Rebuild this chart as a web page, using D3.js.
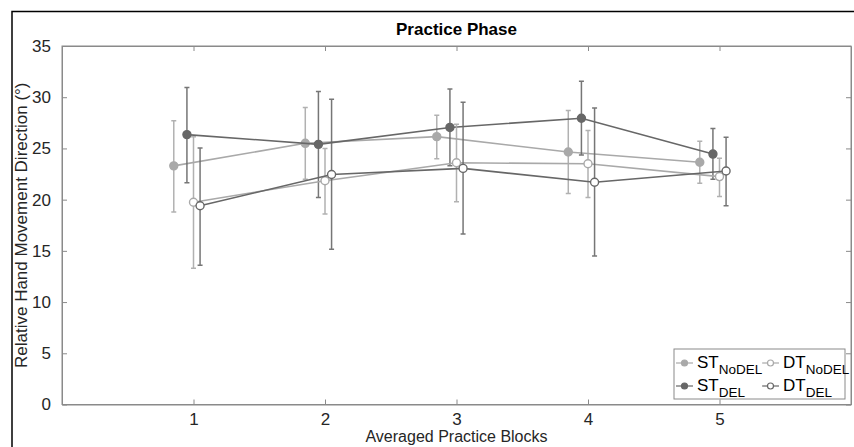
<!DOCTYPE html>
<html lang="en">
<head>
<meta charset="utf-8">
<title>Practice Phase</title>
<script src="https://d3js.org/d3.v7.min.js"></script>
<style>
body { margin: 0; background: #fff; }
text { font-family: "Liberation Sans", Arial, sans-serif; }
</style>
</head>
<body>
<svg width="854" height="447"></svg>
<script>
// data
var blocks = [1, 2, 3, 4, 5];
var xTicks = [1, 2, 3, 4, 5];
var yTicks = [0, 5, 10, 15, 20, 25, 30, 35];

var stNoDelMean = [23.3, 25.5, 26.15, 24.65, 23.65];
var stNoDelLo   = [18.8, 22.0, 24.0, 20.6, 21.6];
var stNoDelHi   = [27.7, 29.0, 28.25, 28.7, 25.7];

var stDelMean = [26.35, 25.4, 27.05, 27.95, 24.45];
var stDelLo   = [21.65, 20.2, 23.3, 24.35, 22.0];
var stDelHi   = [30.95, 30.55, 30.8, 31.55, 26.95];

var dtNoDelMean = [19.75, 21.85, 23.6, 23.5, 22.25];
var dtNoDelLo   = [13.3, 18.6, 19.8, 20.2, 20.3];
var dtNoDelHi   = [26.15, 25.0, 27.35, 26.75, 24.05];

var dtDelMean = [19.4, 22.45, 23.05, 21.7, 22.8];
var dtDelLo   = [13.6, 15.15, 16.65, 14.5, 19.4];
var dtDelHi   = [25.05, 29.8, 29.5, 28.95, 26.1];

var series = [
  {name: 'ST', sub: 'NoDEL', mean: stNoDelMean, lo: stNoDelLo, hi: stNoDelHi, off: -0.15, color: '#a9a9a9', fill: '#a9a9a9'},
  {name: 'ST', sub: 'DEL', mean: stDelMean, lo: stDelLo, hi: stDelHi, off: -0.05, color: '#676767', fill: '#676767'},
  {name: 'DT', sub: 'NoDEL', mean: dtNoDelMean, lo: dtNoDelLo, hi: dtNoDelHi, off: 0, color: '#a9a9a9', fill: '#fff'},
  {name: 'DT', sub: 'DEL', mean: dtDelMean, lo: dtDelLo, hi: dtDelHi, off: 0.05, color: '#676767', fill: '#fff'}
];

var svg = d3.select('svg');
var L = 62, R = 851, T = 46, B = 404.5;

var x = d3.scaleLinear().domain([0, 6]).range([L, R]);
var y = d3.scaleLinear().domain([0, 35]).range([B, T]);

// figure frame
svg.append('path').attr('d', 'M12,460 L12,11.5 L870,11.5')
  .attr('fill', 'none').attr('stroke', '#000').attr('stroke-width', 1.5);

// axes box
svg.append('rect').attr('x', L).attr('y', T).attr('width', R - L).attr('height', B - T)
  .attr('fill', '#fff').attr('stroke', '#8a8a8a').attr('stroke-width', 1);

var axisCol = '#8a8a8a', labCol = '#262626';

var gB = svg.append('g').attr('transform', 'translate(0,' + B + ')')
  .call(d3.axisBottom(x).tickValues(xTicks).tickFormat(d3.format('d'))
    .tickSizeInner(-5).tickSizeOuter(0).tickPadding(8));
var gT = svg.append('g').attr('transform', 'translate(0,' + T + ')')
  .call(d3.axisTop(x).tickValues(xTicks).tickSizeInner(-5).tickSizeOuter(0).tickFormat(''));
var gL = svg.append('g').attr('transform', 'translate(' + L + ',0)')
  .call(d3.axisLeft(y).tickValues(yTicks).tickFormat(d3.format('d'))
    .tickSizeInner(-5).tickSizeOuter(0).tickPadding(11));
var gR = svg.append('g').attr('transform', 'translate(' + R + ',0)')
  .call(d3.axisRight(y).tickValues(yTicks).tickSizeInner(-5).tickSizeOuter(0).tickFormat(''));

[gB, gT, gL, gR].forEach(function(g) {
  g.attr('font-size', null).attr('font-family', null);
  g.select('.domain').attr('stroke', axisCol);
  g.selectAll('.tick line').attr('stroke', axisCol);
  g.selectAll('.tick text').attr('fill', labCol).style('font-size', '17px');
});

// error bars, lines, markers
var cap = 2.5;
series.forEach(function(s) {
  var g = svg.append('g');
  var pts = blocks.map(function(b, i) { return {b: b + s.off, m: s.mean[i], lo: s.lo[i], hi: s.hi[i]}; });

  g.selectAll('.eb').data(pts).enter().append('path')
    .attr('d', function(d) {
      var px = x(d.b), y1 = y(d.lo), y2 = y(d.hi);
      return 'M' + px + ',' + y1 + 'L' + px + ',' + y2 +
        'M' + (px - cap) + ',' + y1 + 'L' + (px + cap) + ',' + y1 +
        'M' + (px - cap) + ',' + y2 + 'L' + (px + cap) + ',' + y2;
    })
    .attr('stroke', s.color).attr('stroke-width', 1.5).attr('fill', 'none').attr('opacity', 0.9);

  g.append('path').datum(pts)
    .attr('d', d3.line().x(function(d) { return x(d.b); }).y(function(d) { return y(d.m); }))
    .attr('fill', 'none').attr('stroke', s.color).attr('stroke-width', 1.6);

  g.selectAll('circle').data(pts).enter().append('circle')
    .attr('cx', function(d) { return x(d.b); })
    .attr('cy', function(d) { return y(d.m); })
    .attr('r', 4)
    .attr('fill', s.fill).attr('stroke', s.color).attr('stroke-width', 1.4);
});

// title and axis labels
svg.append('text').attr('x', (L + R) / 2).attr('y', 35).attr('text-anchor', 'middle')
  .style('font-size', '17px').style('font-weight', 'bold').attr('fill', '#000').text('Practice Phase');
svg.append('text').attr('x', (L + R) / 2).attr('y', 442).attr('text-anchor', 'middle')
  .style('font-size', '16px').attr('fill', labCol).text('Averaged Practice Blocks');
svg.append('text').attr('transform', 'translate(27,' + ((T + B) / 2) + ') rotate(-90)')
  .attr('text-anchor', 'middle').style('font-size', '17px').attr('fill', labCol)
  .text('Relative Hand Movement Direction (°)');

// legend
var lg = svg.append('g');
lg.append('rect').attr('x', 674).attr('y', 349).attr('width', 171).attr('height', 50)
  .attr('fill', '#fff').attr('stroke', '#8a8a8a').attr('stroke-width', 1);
var legPos = [[676, 363], [676, 386], [762, 363], [762, 386]];
series.forEach(function(s, i) {
  var p = legPos[i];
  lg.append('line').attr('x1', p[0]).attr('x2', p[0] + 17).attr('y1', p[1]).attr('y2', p[1])
    .attr('stroke', s.color).attr('stroke-width', 1.2);
  lg.append('circle').attr('cx', p[0] + 8.5).attr('cy', p[1]).attr('r', 3)
    .attr('fill', s.fill).attr('stroke', s.color).attr('stroke-width', 1.2);
  var t = lg.append('text').attr('x', p[0] + 21).attr('y', p[1] + 5)
    .style('font-size', '17px').attr('fill', '#000');
  t.append('tspan').text(s.name);
  t.append('tspan').attr('dy', 6).style('font-size', '13.5px').text(s.sub);
});
</script>
</body>
</html>
